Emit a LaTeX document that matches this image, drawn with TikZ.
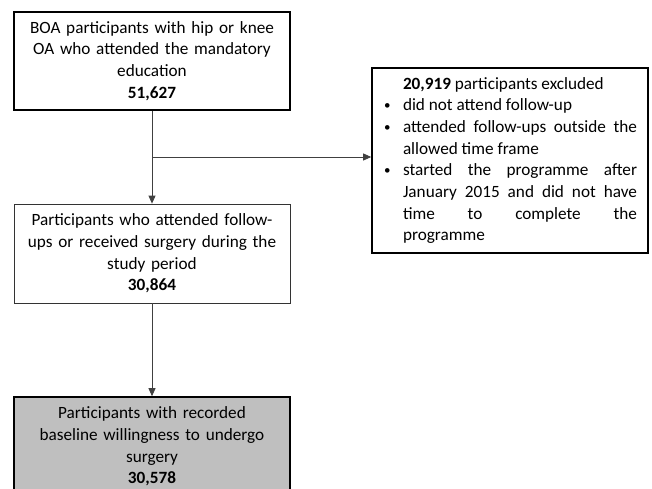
\documentclass[tikz,border=0pt]{standalone}
\usepackage{fontspec}
\setmainfont{Carlito}
\usetikzlibrary{arrows.meta}
\newcommand{\excitem}[1]{\par\noindent\hangindent=20pt\hangafter=1\makebox[20pt][l]{\hspace{1pt}\raisebox{1pt}{\fontsize{13}{13}\selectfont\textbullet}}#1}
\begin{document}
\begin{tikzpicture}[x=1pt,y=1pt,font=\fontsize{17.2}{21.7}\selectfont,
		box/.style={draw,rectangle,minimum width=276pt,text width=268pt,align=center,inner sep=0pt},
		thickbox/.style={box,line width=1.6pt},
		thinbox/.style={box,line width=0.8pt,draw=black!80},
		greybox/.style={thickbox,fill=black!25},
		excbox/.style={thickbox,text width=254pt,align=justify,minimum height=185pt},
		flow/.style={-{Triangle[length=8pt,width=7pt]},line width=0.8pt,draw=black!75}]
	\useasboundingbox (0,0) rectangle (652,488);
	\node[thickbox,minimum height=98pt] (boa) at (152,427) {BOA participants with hip or knee\\OA who attended the mandatory\\education\\\textbf{51,627}};
	\node[thinbox,minimum height=99pt] (fup) at (152,234.5) {Participants who attended follow-\\ups or received surgery during the\\study period\\\textbf{30,864}};
	\node[greybox,minimum height=99pt] (will) at (152,41.5) {Participants with recorded\\baseline willingness to undergo\\surgery\\\textbf{30,578}};
	\node[excbox] (excl) at (510,327.5) {\noindent\hspace*{20pt}\textbf{20,919} participants excluded
		\excitem{did not attend follow-up}
		\excitem{attended follow-ups outside the\linebreak allowed time frame}
		\excitem{started the programme after\linebreak January 2015 and did not have\linebreak time to complete the\linebreak programme}\par};
	\coordinate (split) at (152,331);
	\draw[flow] (boa.south) -- (fup.north);
	\draw[flow] (split) -- (split -| excl.west);
	\draw[flow] (fup.south) -- (will.north);
\end{tikzpicture}
\end{document}
